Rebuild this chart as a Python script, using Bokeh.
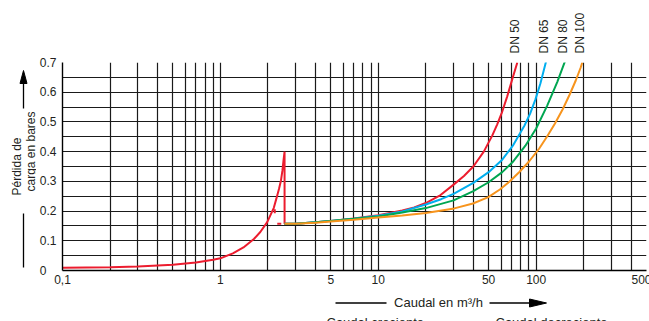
import math
from bokeh.plotting import figure
from bokeh.layouts import column, row
from bokeh.models import FixedTicker, Range1d, CustomJSTickFormatter
from bokeh.core.properties import value
from bokeh.embed import file_html
from bokeh.resources import INLINE

# ---------------- data ----------------
x_tick_values = [0.1, 1, 5, 10, 50, 100, 500]
x_grid_values = [0.1, 0.2, 0.3, 0.4, 0.5, 0.6, 0.7, 0.8, 0.9,
                 1, 2, 3, 4, 5, 6, 7, 8, 9,
                 10, 20, 30, 40, 50, 60, 70, 80, 90,
                 100, 200, 300, 400, 500]
y_tick_values = [0, 0.1, 0.2, 0.3, 0.4, 0.5, 0.6, 0.7]
y_grid_values = [0, 0.05, 0.1, 0.15, 0.2, 0.25, 0.3, 0.35, 0.4, 0.45,
                 0.5, 0.55, 0.6, 0.65, 0.7]

series_names = ["DN 50", "DN 65", "DN 80", "DN 100"]

q_dn50 = [0.1, 0.2, 0.3, 0.5, 0.7, 0.9, 1.0, 1.2, 1.4, 1.63, 1.79, 1.98,
          2.18, 2.26, 2.35, 2.42, 2.47, 2.51, 2.55, 2.55,
          3, 4, 5, 7, 10, 14.2, 16.9, 20, 24.8, 30, 34.9, 40, 46.6, 52.7,
          56.6, 61, 65.6, 70.6, 76]
dp_dn50 = [0.009, 0.011, 0.0135, 0.019, 0.027, 0.036, 0.041, 0.0576, 0.0777,
           0.106, 0.1295, 0.163, 0.211, 0.241, 0.274, 0.303, 0.335, 0.37,
           0.40, 0.157,
           0.157, 0.162, 0.167, 0.175, 0.186, 0.202, 0.212, 0.227, 0.254,
           0.289, 0.318, 0.350, 0.40, 0.454, 0.491, 0.535, 0.586, 0.644, 0.70]

q_dn50_dash = [2.43, 2.21, 2.21]
dp_dn50_dash = [0.157, 0.157, 0.212]

q_dn65 = [2.55, 3, 4, 5, 7, 10, 14.2, 20, 25, 30, 40, 50, 61, 71.2, 84.4,
          91.6, 99, 106.5, 116]
dp_dn65 = [0.157, 0.157, 0.162, 0.167, 0.174, 0.184, 0.199, 0.222, 0.240,
           0.258, 0.295, 0.331, 0.373, 0.42, 0.488, 0.528, 0.576, 0.63, 0.707]

q_dn80 = [2.55, 3, 4, 5, 7, 10, 14.2, 20, 30, 40, 50, 61, 71, 85.5, 100,
          117.5, 136, 153]
dp_dn80 = [0.157, 0.157, 0.162, 0.167, 0.174, 0.182, 0.195, 0.21, 0.236,
           0.267, 0.297, 0.331, 0.365, 0.42, 0.478, 0.555, 0.634, 0.707]

q_dn100 = [2.55, 3, 4, 5, 7, 10, 14.2, 20, 30.3, 39.8, 49.8, 58.9, 67.9, 78.3,
           90.7, 104.6, 117.3, 131.6, 147.6, 163.1, 178.2, 191.5, 196]
dp_dn100 = [0.157, 0.157, 0.161, 0.165, 0.171, 0.178, 0.185, 0.1935, 0.209,
            0.2255, 0.247, 0.2726, 0.2995, 0.3315, 0.3685, 0.4106, 0.451,
            0.4947, 0.5435, 0.5923, 0.6394, 0.6832, 0.70]

y_title_lines = ["Pérdida de", "carga en bares"]
x_title = "Caudal en m³/h"
bottom_notes = ["Caudal creciente", "Caudal decreciente"]

# ---------------- style / layout ----------------
FONT = "Liberation Sans"
TXT = "#231f20"
RED = "#ec1c2e"
BLUE = "#00aeef"
GREEN = "#00a651"
ORANGE = "#f7941d"
GRID = "#1a1a1a"

LEFT_W = 36      # strip holding the y title
AX_W = 24        # room for y tick labels
FRAME_W = 584
RIGHT_B = 5
FRAME_H = 208
TOP_H = 54
MAIN_TOP = 8
MAIN_BOTTOM = 20
BOTTOM_H = 31
FRAME_X0 = LEFT_W + AX_W           # page x of the frame's left edge
FRAME_Y1 = TOP_H + MAIN_TOP + FRAME_H  # page y of the frame's bottom edge


def strip(fw, fh, xr, yr, bl=0, br=0, bt=0, bb=0, **kw):
    f = figure(frame_width=fw, frame_height=fh,
               min_border_left=bl, min_border_right=br,
               min_border_top=bt, min_border_bottom=bb,
               x_range=xr, y_range=yr,
               x_axis_location=None, y_axis_location=None,
               output_backend="svg", toolbar_location=None, **kw)
    f.outline_line_color = None
    f.background_fill_color = "white"
    f.border_fill_color = "white"
    f.grid.visible = False
    return f


# ---------------- main chart ----------------
p = figure(frame_width=FRAME_W, frame_height=FRAME_H,
           min_border_left=AX_W, min_border_right=RIGHT_B,
           min_border_top=MAIN_TOP, min_border_bottom=MAIN_BOTTOM,
           x_axis_type="log", x_range=Range1d(0.1, 500),
           y_range=Range1d(0, 0.7),
           output_backend="svg", toolbar_location=None)
p.outline_line_color = None
p.background_fill_color = "white"
p.border_fill_color = "white"

p.xgrid.ticker = FixedTicker(ticks=x_grid_values, minor_ticks=[])
p.ygrid.ticker = FixedTicker(ticks=y_grid_values, minor_ticks=[])
for g in (p.xgrid, p.ygrid):
    g.grid_line_color = GRID
    g.grid_line_width = 1.2
    g.grid_line_alpha = 1.0

p.xaxis.ticker = FixedTicker(ticks=x_tick_values, minor_ticks=[])
p.yaxis.ticker = FixedTicker(ticks=y_tick_values, minor_ticks=[])
p.xaxis.formatter = CustomJSTickFormatter(code="return String(tick).replace('.', ',');")
p.yaxis.formatter = CustomJSTickFormatter(
    code="return tick == 0 ? '0\u2007\u2008' : tick.toFixed(1);")
for ax in (p.xaxis, p.yaxis):
    ax.axis_line_color = "black"
    ax.axis_line_width = 1.4
    ax.major_tick_in = 0
    ax.major_tick_out = 0
    ax.minor_tick_in = 0
    ax.minor_tick_out = 0
    ax.major_label_text_font = FONT
    ax.major_label_text_font_size = "12px"
    ax.major_label_text_color = TXT
p.xaxis.major_label_standoff = 4
p.yaxis.major_label_standoff = 6

p.line(q_dn50, dp_dn50, line_color=RED, line_width=2)
p.line(q_dn50_dash, dp_dn50_dash, line_color=RED, line_width=2, line_dash="4 13")
p.line(q_dn65, dp_dn65, line_color=BLUE, line_width=2)
p.line(q_dn80, dp_dn80, line_color=GREEN, line_width=2)
p.line(q_dn100, dp_dn100, line_color=ORANGE, line_width=2)

# ---------------- top strip: DN labels on the same x scale ----------------
top = strip(FRAME_W, TOP_H, p.x_range, Range1d(0, TOP_H),
            bl=FRAME_X0, br=RIGHT_B, x_axis_type="log")
dn_x = [q_dn50[-1], q_dn65[-1], q_dn80[-1], q_dn100[-1]]
top.text(x=dn_x, y=[1] * 4, text=series_names, angle=math.pi / 2,
         text_align="left", text_baseline="middle",
         text_font=value(FONT), text_font_size="12px", text_color=TXT)

# ---------------- left strip: y title with arrow ----------------
# frame aligned with the main frame; y = pixels above the main frame's bottom
left = strip(LEFT_W, FRAME_H, Range1d(0, LEFT_W), Range1d(0, FRAME_H),
             bt=MAIN_TOP, bb=MAIN_BOTTOM)
left.text(x=[16.5, 30], y=[104, 119], text=y_title_lines, angle=math.pi / 2,
          text_align="center", text_baseline="middle",
          text_font=value(FONT), text_font_size="12px", text_color=TXT)
left.segment(x0=[23, 23], y0=[162, 3], x1=[23, 23], y1=[190, 57],
             line_color="black", line_width=1.3)
left.patch(x=[19.5, 23, 26.5], y=[187, 200, 187], fill_color="black",
           line_color="black")

# ---------------- bottom strip: x title with arrows, notes ----------------
# frame aligned with the main frame; x = page pixels, y = pixels above page bottom
PAGE_H = TOP_H + MAIN_TOP + FRAME_H + MAIN_BOTTOM + BOTTOM_H
bottom = strip(FRAME_W, BOTTOM_H, Range1d(FRAME_X0, FRAME_X0 + FRAME_W),
               Range1d(0, BOTTOM_H), bl=FRAME_X0, br=RIGHT_B)
bottom.text(x=[438], y=[19], text=[x_title], text_align="center",
            text_baseline="middle", text_font=value(FONT),
            text_font_size="13px", text_color=TXT)
bottom.segment(x0=[335, 489], y0=[18.5, 18.5], x1=[386, 532], y1=[18.5, 18.5],
               line_color="black", line_width=1.3)
bottom.patch(x=[529, 546, 529], y=[22.5, 18.5, 14.5], fill_color="black",
             line_color="black")
bottom.text(x=[326, 495], y=[-0.7, -0.7], text=bottom_notes,
            text_align="left", text_baseline="middle", text_font=value(FONT),
            text_font_size="13px", text_color=TXT)

layout = column(top, row(left, p, spacing=0), bottom, spacing=0)

open("out.html", "w").write(file_html(layout, INLINE))
